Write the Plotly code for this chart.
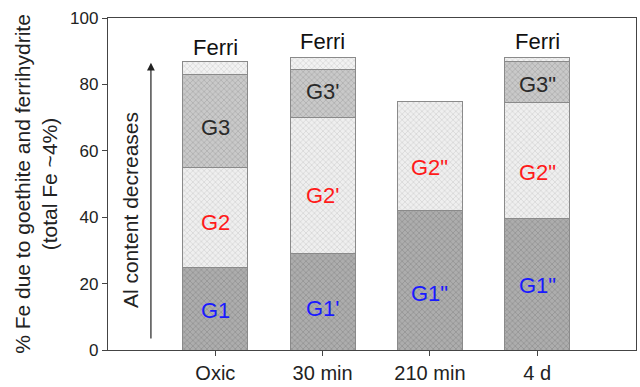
import plotly.graph_objects as go

# Sampling times and stacked iron fractions (% of total Fe)
categories = ["Oxic", "30 min", "210 min", "4 d"]
g1 = [25.0, 29.0, 42.0, 39.5]
g2 = [30.0, 41.0, 33.0, 35.0]
g3 = [28.0, 14.5, 0.0, 12.5]
ferri = [4.0, 3.5, 0.0, 1.0]

# Segment labels per category (None = no label)
g1_labels = ["G1", "G1'", 'G1"', 'G1"']
g2_labels = ["G2", "G2'", 'G2"', 'G2"']
g3_labels = ["G3", "G3'", None, 'G3"']
ferri_labels = ["Ferri", "Ferri", None, "Ferri"]

# Label heights (axis units) for each segment's text
g1_label_y = [12, 12.5, 17, 19.5]
g2_label_y = [38.5, 46.5, 55, 53.5]
g3_label_y = [67, 78, None, 80]
ferri_label_y = [91, 93, None, 93]

FONT = "Liberation Sans, Arial, sans-serif"
x_idx = list(range(len(categories)))

styles = [
    ("G1", g1, "#adadad", "#808080"),
    ("G2", g2, "#efefef", "#c2c2c2"),
    ("G3", g3, "#c9c9c9", "#999999"),
    ("Ferri", ferri, "#f2f2f2", "#c6c6c6"),
]

fig = go.Figure()
for name, vals, bg, fg in styles:
    fig.add_trace(go.Bar(
        x=x_idx, y=vals, name=name, width=0.605,
        marker=dict(
            color=bg,
            line=dict(color="#8a8a8a", width=1),
            pattern=dict(shape="x", size=4, solidity=0.4,
                         fgcolor=fg, bgcolor=bg, fillmode="overlay"),
        ),
        showlegend=False, hoverinfo="skip",
    ))

annotations = []

def add_labels(labels, ys, color):
    for i, (t, yv) in enumerate(zip(labels, ys)):
        if t is None:
            continue
        annotations.append(dict(
            x=i, y=yv, xref="x", yref="y", text=t, showarrow=False,
            font=dict(family=FONT, size=22, color=color),
        ))

add_labels(g1_labels, g1_label_y, "#1a1aff")
add_labels(g2_labels, g2_label_y, "#ff1a1a")
add_labels(g3_labels, g3_label_y, "#2a2a2a")
add_labels(ferri_labels, ferri_label_y, "#111111")

# Arrow showing the direction of decreasing Al content
annotations.append(dict(
    x=-0.6, y=86.5, ax=-0.6, ay=3, xref="x", yref="y", axref="x", ayref="y",
    text="", showarrow=True, arrowhead=2, arrowsize=1.3, arrowwidth=1.2,
    arrowcolor="#222222",
))
annotations.append(dict(
    x=-0.79, y=42, xref="x", yref="y", text="Al content decreases",
    showarrow=False, textangle=-90,
    font=dict(family=FONT, size=21, color="#222222"),
))

fig.update_layout(
    width=640, height=387,
    margin=dict(l=108, r=3, t=18, b=32),
    paper_bgcolor="white", plot_bgcolor="white",
    barmode="stack", bargap=0.4,
    font=dict(family=FONT, color="#222222"),
    annotations=annotations,
    xaxis=dict(
        tickmode="array", tickvals=x_idx, ticktext=categories,
        range=[-1, 3.92], showgrid=False, zeroline=False,
        showline=True, linecolor="#444444", linewidth=1.3, mirror=True,
        ticks="outside", ticklen=5, tickcolor="#444444",
        tickfont=dict(family=FONT, size=20, color="#222222"),
    ),
    yaxis=dict(
        range=[0, 100], tickvals=[0, 20, 40, 60, 80, 100],
        showgrid=False, zeroline=False,
        showline=True, linecolor="#444444", linewidth=1.3, mirror=True,
        ticks="outside", ticklen=5, tickcolor="#444444",
        tickfont=dict(family=FONT, size=17, color="#222222"),
        title=dict(
            text="% Fe due to goethite and ferrihydrite<br>(total Fe ~4%)",
            font=dict(family=FONT, size=21, color="#222222"),
            standoff=6,
        ),
    ),
)

fig.write_html("out.html")
